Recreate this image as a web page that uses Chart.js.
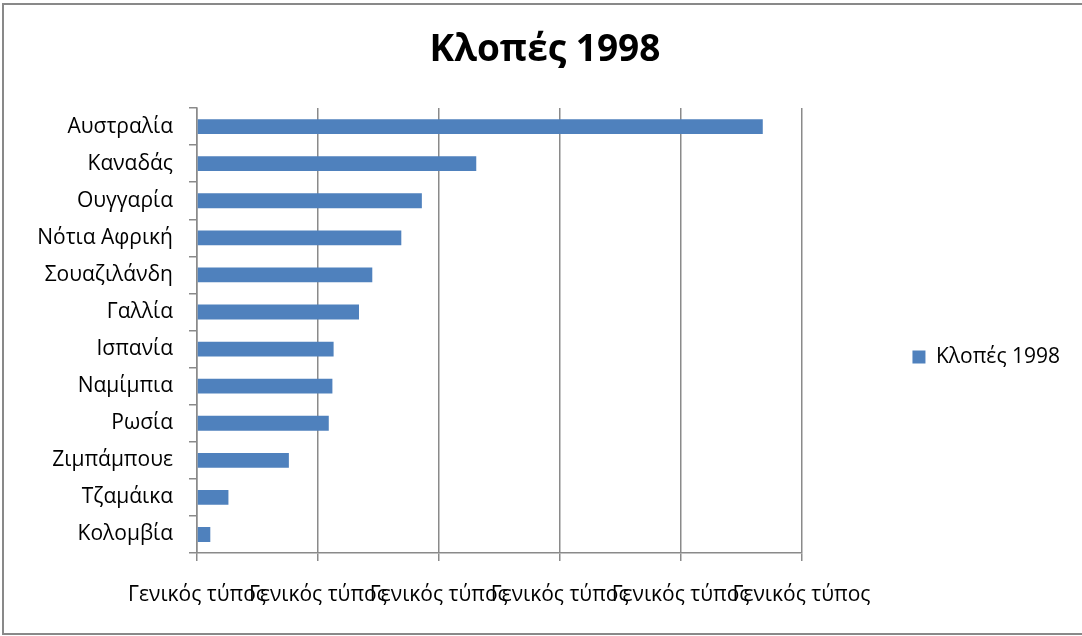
<!DOCTYPE html>
<html lang="el">
<head>
<meta charset="UTF-8">
<title>Κλοπές 1998</title>
<script src="https://cdn.jsdelivr.net/npm/chart.js"></script>
<style>
  html, body { margin: 0; padding: 0; background: #fff; overflow: hidden; }
  #frame { position: absolute; left: 2px; top: 3px; width: 1100px; height: 632px; border: 2px solid #898989; box-sizing: border-box; }
  #wrap { position: absolute; left: 0; top: 0; width: 1082px; height: 636px; }
</style>
</head>
<body>
<div id="frame"></div>
<div id="wrap"><canvas id="theftChart" width="1082" height="636"></canvas></div>
<script>
// categories, top to bottom
const countries = [
  'Αυστραλία', 'Καναδάς', 'Ουγγαρία', 'Νότια Αφρική', 'Σουαζιλάνδη', 'Γαλλία',
  'Ισπανία', 'Ναμίμπια', 'Ρωσία', 'Ζιμπάμπουε', 'Τζαμάικα', 'Κολομβία'
];
// values, in gridline units
const thefts1998 = [4.68, 2.31, 1.86, 1.69, 1.45, 1.34, 1.13, 1.12, 1.09, 0.76, 0.26, 0.11];
const seriesName = 'Κλοπές 1998';
const tickLabel = 'Γενικός τύπος';   // every x tick reads the same

const FONT = "'Open Sans', sans-serif";
const GRAY = '#8a8a8a';

new Chart(document.getElementById('theftChart'), {
  type: 'bar',
  data: {
    labels: countries,
    datasets: [{
      label: seriesName,
      data: thefts1998,
      backgroundColor: '#4F81BD',
      barPercentage: 0.4,
      categoryPercentage: 1
    }]
  },
  options: {
    indexAxis: 'y',
    responsive: false,
    animation: false,
    layout: { padding: { left: 20, right: 12 } },
    plugins: {
      tooltip: { enabled: false },
      title: {
        display: true,
        text: seriesName,
        color: '#000',
        font: { family: FONT, size: 37, weight: 'bold', lineHeight: 1.2 },
        padding: { top: 28.5, bottom: 35.1 }
      },
      legend: {
        position: 'right',
        maxWidth: 281,
        // empty title only pushes the single entry down a little
        title: { display: true, text: ' ', font: { size: 10, lineHeight: 1.2 }, padding: { top: 66, bottom: 0 } },
        labels: {
          boxWidth: 13,
          boxHeight: 13,
          padding: 111,
          color: '#000',
          font: { family: FONT, size: 21 }
        }
      }
    },
    scales: {
      x: {
        min: 0,
        max: 5,
        afterFit: s => { s.height = 83; },
        ticks: {
          stepSize: 1,
          autoSkip: false,
          maxRotation: 0,
          minRotation: 0,
          padding: 21,
          color: '#000',
          font: { family: FONT, size: 21 },
          callback: () => tickLabel
        },
        grid: { color: GRAY, tickLength: 8, lineWidth: 1.5 },
        border: { color: GRAY, width: 1.5 }
      },
      y: {
        afterFit: s => { s.width = 177; },
        ticks: {
          padding: 16,
          color: '#000',
          font: { family: FONT, size: 21 }
        },
        grid: { drawOnChartArea: false, tickLength: 8, color: GRAY, lineWidth: 1.5 },
        border: { color: GRAY, width: 1.5 }
      }
    }
  }
});
</script>
</body>
</html>
